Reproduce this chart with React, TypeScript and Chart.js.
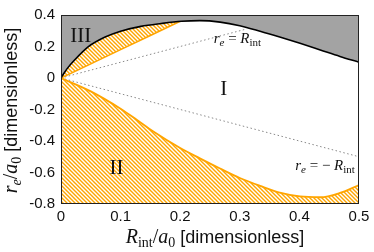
import React, { useEffect, useRef } from 'react';
import { Chart, registerables } from 'chart.js';

Chart.register(...registerables);

// Upper boundary (black curve)
const boundaryX = [0, 0.005, 0.01, 0.0235, 0.046, 0.074, 0.1, 0.134, 0.168, 0.2025, 0.233, 0.267, 0.3, 0.334, 0.367, 0.401, 0.435, 0.468, 0.5];
const boundaryY = [0, 0.03, 0.058, 0.117, 0.199, 0.26, 0.297, 0.328, 0.346, 0.36, 0.364, 0.355, 0.332, 0.297, 0.26, 0.22, 0.178, 0.137, 0.1];

// Upper orange line (edge of hatched region III side)
const upperOrangeX = [0, 0.05, 0.1, 0.15, 0.2];
const upperOrangeY = [0, 0.09, 0.18, 0.27, 0.36];

// Lower orange curve (edge of region II)
const lowerOrangeX = [0, 0.05, 0.1, 0.127, 0.155, 0.2, 0.233, 0.267, 0.3, 0.334, 0.367, 0.401, 0.435, 0.468, 0.5];
const lowerOrangeY = [0, -0.085, -0.195, -0.265, -0.34, -0.445, -0.51, -0.575, -0.635, -0.685, -0.728, -0.752, -0.757, -0.73, -0.68];

// Dotted reference lines r_e = R_int and r_e = -R_int
const diagPlusX = [0, 0.31];
const diagPlusY = [0, 0.31];
const diagMinusX = [0, 0.5];
const diagMinusY = [0, -0.5];

const xTicks = [0, 0.1, 0.2, 0.3, 0.4, 0.5];
const xTickLabels = ['0', '0.1', '0.2', '0.3', '0.4', '0.5'];
const yTicks = [-0.8, -0.6, -0.4, -0.2, 0, 0.2, 0.4];
const yTickLabels = ['-0.8', '-0.6', '-0.4', '-0.2', '0', '0.2', '0.4'];

const regionLabels = ['III', 'I', 'II'];
const regionLabelX = [0.033, 0.273, 0.093];
const regionLabelY = [0.23, -0.109, -0.611];

const lineLabelX = [0.296, 0.443];
const lineLabelY = [0.22, -0.586];

const SERIF = "'Liberation Serif', 'DejaVu Serif', serif";
const SANS = "'Liberation Sans', Arial, sans-serif";
const ORANGE = '#ffa500';

type Part = { t: string; font: string; dy?: number };

function drawRich(ctx: CanvasRenderingContext2D, parts: Part[], x: number, y: number, align: 'left' | 'center') {
  ctx.save();
  ctx.textBaseline = 'alphabetic';
  ctx.textAlign = 'left';
  let total = 0;
  const widths = parts.map((p) => {
    ctx.font = p.font;
    const w = ctx.measureText(p.t).width;
    total += w;
    return w;
  });
  let cx = align === 'center' ? x - total / 2 : x;
  parts.forEach((p, i) => {
    ctx.font = p.font;
    ctx.fillText(p.t, cx, y + (p.dy || 0));
    cx += widths[i];
  });
  ctx.restore();
}

function makeHatch(color: string): CanvasPattern | string {
  const s = 4;
  const c = document.createElement('canvas');
  c.width = s;
  c.height = s;
  const g = c.getContext('2d');
  if (!g) return color;
  g.strokeStyle = color;
  g.lineWidth = 1.4;
  g.beginPath();
  for (const o of [-s, 0, s]) {
    g.moveTo(o - 1, -1);
    g.lineTo(o + s + 1, s + 1);
  }
  g.stroke();
  return g.createPattern(c, 'repeat') || color;
}

const pts = (xs: number[], ys: number[]) => xs.map((x, i) => ({ x, y: ys[i] }));

export default function App() {
  const ref = useRef<HTMLCanvasElement>(null);

  useEffect(() => {
    if (!ref.current) return;
    const hatch = makeHatch(ORANGE);

    const decor = {
      id: 'decor',
      afterDraw(chart: any) {
        const { ctx, chartArea } = chart;
        const xs = chart.scales.x;
        const ys = chart.scales.y;
        ctx.save();
        ctx.strokeStyle = '#222';
        ctx.lineWidth = 1;
        ctx.strokeRect(
          Math.round(chartArea.left) + 0.5,
          Math.round(chartArea.top) + 0.5,
          Math.round(chartArea.right - chartArea.left) - 1,
          Math.round(chartArea.bottom - chartArea.top) - 1
        );
        ctx.fillStyle = '#111';
        // region labels
        regionLabels.forEach((t, i) => {
          drawRich(ctx, [{ t, font: `21px ${SERIF}` }], xs.getPixelForValue(regionLabelX[i]), ys.getPixelForValue(regionLabelY[i]), 'center');
        });
        // line labels
        const it = `italic 15px ${SERIF}`;
        const sub = `italic 11px ${SERIF}`;
        const subR = `11px ${SERIF}`;
        const rm = `15px ${SERIF}`;
        drawRich(
          ctx,
          [{ t: 'r', font: it }, { t: 'e', font: sub, dy: 3 }, { t: ' = ', font: rm }, { t: 'R', font: it }, { t: 'int', font: subR, dy: 3 }],
          xs.getPixelForValue(lineLabelX[0]),
          ys.getPixelForValue(lineLabelY[0]),
          'center'
        );
        drawRich(
          ctx,
          [{ t: 'r', font: it }, { t: 'e', font: sub, dy: 3 }, { t: ' = \u2212 ', font: rm }, { t: 'R', font: it }, { t: 'int', font: subR, dy: 3 }],
          xs.getPixelForValue(lineLabelX[1]),
          ys.getPixelForValue(lineLabelY[1]),
          'center'
        );
        // axis titles
        const tIt = `italic 20px ${SERIF}`;
        const tSubIt = `italic 14px ${SERIF}`;
        const tSub = `14px ${SERIF}`;
        const tRm = `20px ${SERIF}`;
        const tSans = `18px ${SANS}`;
        const cxMid = (chartArea.left + chartArea.right) / 2 + 5;
        drawRich(
          ctx,
          [
            { t: 'R', font: tIt },
            { t: 'int', font: tSub, dy: 4 },
            { t: '/', font: tRm },
            { t: 'a', font: tIt },
            { t: '0', font: tSub, dy: 4 },
            { t: ' [dimensionless]', font: tSans },
          ],
          cxMid,
          242.5,
          'center'
        );
        ctx.translate(17, (chartArea.top + chartArea.bottom) / 2 + 1);
        ctx.rotate(-Math.PI / 2);
        drawRich(
          ctx,
          [
            { t: 'r', font: tIt },
            { t: 'e', font: tSubIt, dy: 4 },
            { t: '/', font: tRm },
            { t: 'a', font: tIt },
            { t: '0', font: tSub, dy: 4 },
            { t: ' [dimensionless]', font: tSans },
          ],
          0,
          0,
          'center'
        );
        ctx.restore();
      },
    };

    const chart = new Chart(ref.current, {
      type: 'line',
      data: {
        datasets: [
          {
            label: 'boundary',
            data: pts(boundaryX, boundaryY),
            borderColor: '#000',
            borderWidth: 1.6,
            backgroundColor: '#a3a3a3',
            fill: 'end',
            pointRadius: 0,
            cubicInterpolationMode: 'monotone',
          },
          {
            label: 'upper',
            data: pts(upperOrangeX, upperOrangeY),
            borderColor: ORANGE,
            borderWidth: 1.5,
            backgroundColor: hatch as any,
            fill: 0,
            pointRadius: 0,
          },
          {
            label: 'lower',
            data: pts(lowerOrangeX, lowerOrangeY),
            borderColor: ORANGE,
            borderWidth: 1.8,
            backgroundColor: hatch as any,
            fill: 'start',
            pointRadius: 0,
            cubicInterpolationMode: 'monotone',
          },
          {
            label: 'diag+',
            data: pts(diagPlusX, diagPlusY),
            borderColor: '#888',
            borderWidth: 1,
            borderDash: [1.5, 2.5],
            fill: false,
            pointRadius: 0,
          },
          {
            label: 'diag-',
            data: pts(diagMinusX, diagMinusY),
            borderColor: '#888',
            borderWidth: 1,
            borderDash: [1.5, 2.5],
            fill: false,
            pointRadius: 0,
          },
        ],
      },
      options: {
        responsive: false,
        animation: false,
        devicePixelRatio: 1,
        layout: { autoPadding: false, padding: { left: 0, right: 15, top: 9, bottom: 0 } },
        plugins: { legend: { display: false }, tooltip: { enabled: false } },
        scales: {
          x: {
            type: 'linear',
            min: 0,
            max: 0.5,
            grid: { display: false, drawTicks: false },
            border: { display: false },
            afterFit: (s: any) => {
              s.height = 48;
            },
            afterBuildTicks: (s: any) => {
              s.ticks = xTicks.map((v) => ({ value: v }));
            },
            ticks: {
              padding: 4,
              color: '#111',
              font: { family: SANS, size: 15 },
              maxRotation: 0,
              callback: (_v: any, i: number) => xTickLabels[i],
            },
          },
          y: {
            type: 'linear',
            min: -0.8,
            max: 0.4,
            grid: { display: false, drawTicks: false },
            border: { display: false },
            afterFit: (s: any) => {
              s.width = 61;
            },
            afterBuildTicks: (s: any) => {
              s.ticks = yTicks.map((v) => ({ value: v }));
            },
            ticks: {
              padding: 6,
              color: '#111',
              font: { family: SANS, size: 15 },
              callback: (_v: any, i: number) => yTickLabels[i],
            },
          },
        },
      },
      plugins: [decor],
    } as any);

    return () => chart.destroy();
  }, []);

  return (
    <div style={{ position: 'fixed', left: 0, top: 0, width: 374, height: 252, background: '#fff' }}>
      <canvas ref={ref} width={374} height={252} style={{ width: 374, height: 252, display: 'block' }} />
    </div>
  );
}
